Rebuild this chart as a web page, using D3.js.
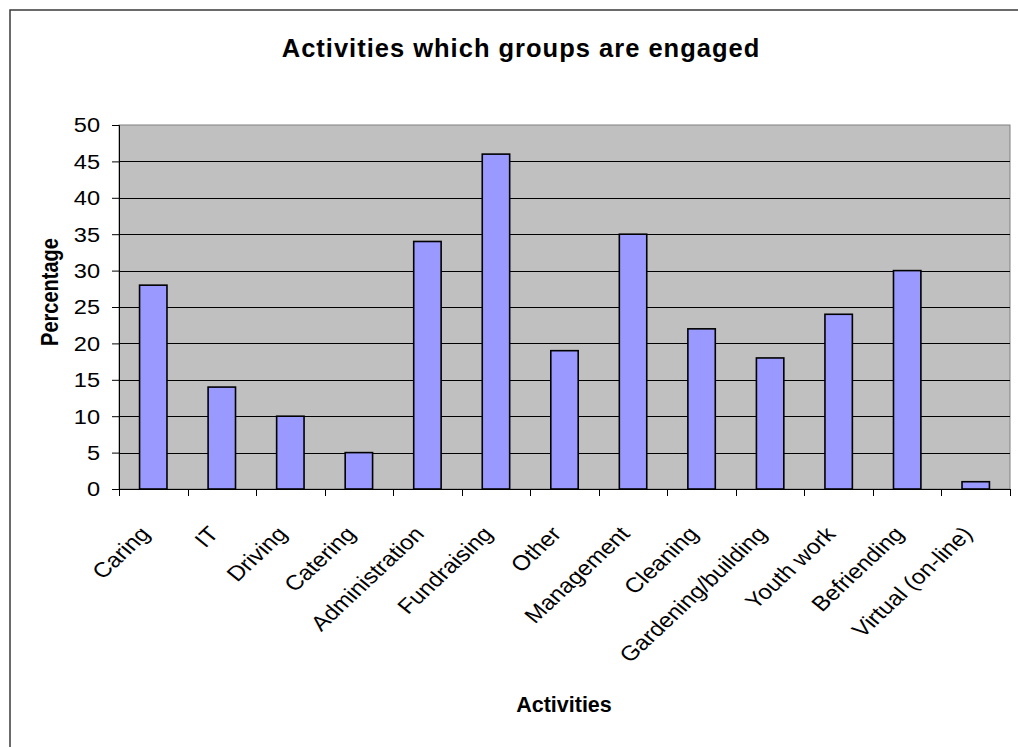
<!DOCTYPE html>
<html>
<head>
<meta charset="utf-8">
<script src="https://cdn.jsdelivr.net/npm/d3@7"></script>
<style>
  html, body { margin: 0; padding: 0; background: #fff; overflow: hidden; }
  svg { display: block; font-family: "Liberation Sans", Arial, sans-serif; }
</style>
</head>
<body>
<svg id="chart" width="1018" height="747"></svg>
<script>
// Share of groups engaged in each activity (%)
const categories = ["Caring", "IT", "Driving", "Catering", "Administration", "Fundraising",
  "Other", "Management", "Cleaning", "Gardening/building", "Youth work", "Befriending",
  "Virtual (on-line)"];
const percentages = [28, 14, 10, 5, 34, 46, 19, 35, 22, 18, 24, 30, 1];
const yTicks = [0, 5, 10, 15, 20, 25, 30, 35, 40, 45, 50];

const svg = d3.select("#chart");
const plot = { left: 119, top: 125, right: 1010, bottom: 489 };
const FONT = "Liberation Sans, Arial, sans-serif";
const WIDEN = 1.15; // axis text is drawn slightly wide

// outer chart frame (runs past the right and bottom edges of the view)
svg.append("rect")
  .attr("x", 10).attr("y", 10).attr("width", 1030).attr("height", 760)
  .attr("fill", "#fff").attr("stroke", "#3a3a3a").attr("stroke-width", 1.5);

const x = d3.scaleBand().domain(categories).range([plot.left, plot.right])
  .paddingInner(0.6).paddingOuter(0.3);
const xEdges = d3.scaleLinear().domain([0, categories.length]).range([plot.left, plot.right]);
const y = d3.scaleLinear().domain([0, 50]).range([plot.bottom, plot.top]);

// plot area
svg.append("rect")
  .attr("x", plot.left).attr("y", plot.top)
  .attr("width", plot.right - plot.left).attr("height", plot.bottom - plot.top)
  .attr("fill", "#c0c0c0").attr("stroke", "#808080").attr("stroke-width", 1);

// horizontal gridlines
svg.append("g")
  .selectAll("line")
  .data(yTicks.filter(t => t > 0 && t < 50))
  .join("line")
  .attr("x1", plot.left).attr("x2", plot.right)
  .attr("y1", d => Math.round(y(d)) + 0.5).attr("y2", d => Math.round(y(d)) + 0.5)
  .attr("stroke", "#000").attr("stroke-width", 1);

// bars
svg.append("g")
  .selectAll("rect")
  .data(categories.map((c, i) => ({ c, v: percentages[i] })))
  .join("rect")
  .attr("x", d => x(d.c))
  .attr("y", d => y(d.v))
  .attr("width", x.bandwidth())
  .attr("height", d => y(0) - y(d.v))
  .attr("fill", "#9999ff")
  .attr("stroke", "#000").attr("stroke-width", 1.6);

// y axis (labels are drawn separately so they can be widened)
const yAxis = svg.append("g")
  .attr("transform", `translate(${plot.left},0)`)
  .call(d3.axisLeft(y).tickValues(yTicks).tickSize(7).tickFormat(""));
yAxis.select(".domain").attr("stroke", "#000");
yAxis.selectAll(".tick line").attr("stroke", "#000");

svg.append("g")
  .selectAll("text")
  .data(yTicks)
  .join("text")
  .attr("transform", d => `translate(100,${y(d)}) scale(${WIDEN},1)`)
  .attr("text-anchor", "end")
  .attr("dy", "0.36em")
  .attr("font-size", 20.5)
  .attr("font-family", FONT)
  .attr("fill", "#000")
  .text(d => d);

// x axis: ticks sit on category boundaries
const xAxisG = svg.append("g").attr("transform", `translate(0,${plot.bottom})`);
xAxisG.append("line")
  .attr("x1", plot.left).attr("x2", plot.right)
  .attr("y1", 0.5).attr("y2", 0.5).attr("stroke", "#000");
xAxisG.selectAll("line.tick")
  .data(d3.range(categories.length + 1))
  .join("line").attr("class", "tick")
  .attr("x1", d => Math.round(xEdges(d)) + 0.5).attr("x2", d => Math.round(xEdges(d)) + 0.5)
  .attr("y1", 0).attr("y2", 7).attr("stroke", "#000");

// slanted category labels, ending just left of each band's centre
svg.append("g")
  .selectAll("text")
  .data(categories)
  .join("text")
  .attr("transform", d =>
    `translate(${x(d) + x.bandwidth() / 2 - 2},${plot.bottom + 46}) scale(${WIDEN},1) rotate(-47)`)
  .attr("text-anchor", "end")
  .attr("font-size", 21)
  .attr("fill", "#000")
  .text(d => d);

// titles
svg.append("text")
  .attr("x", 521).attr("y", 57)
  .attr("text-anchor", "middle")
  .attr("font-size", 25.5).attr("font-weight", "bold")
  .attr("letter-spacing", 1.0)
  .text("Activities which groups are engaged");

svg.append("text")
  .attr("x", 564).attr("y", 712)
  .attr("text-anchor", "middle")
  .attr("font-size", 21.5).attr("font-weight", "bold")
  .text("Activities");

svg.append("text")
  .attr("transform", `translate(58,292) scale(${WIDEN},1) rotate(-90)`)
  .attr("text-anchor", "middle")
  .attr("font-size", 20).attr("font-weight", "bold")
  .text("Percentage");
</script>
</body>
</html>
